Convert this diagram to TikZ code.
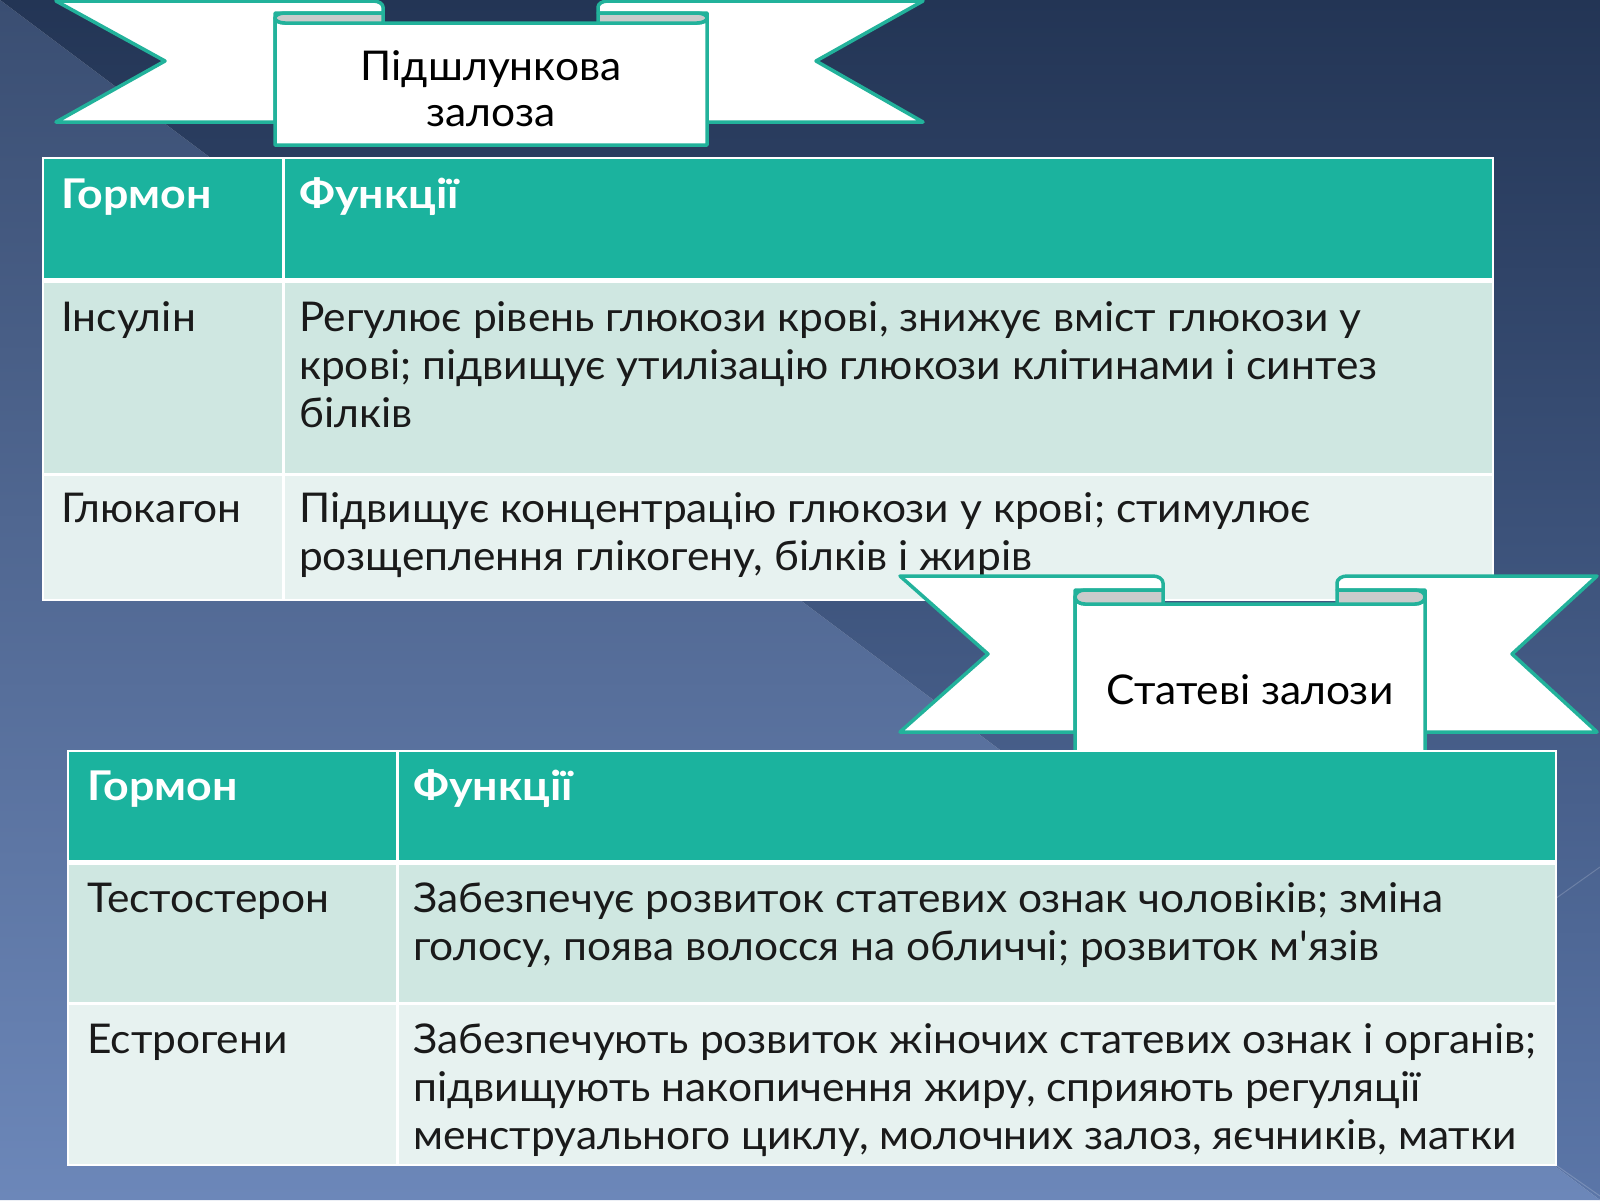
\documentclass[tikz,border=0pt]{standalone}
\usepackage{fontspec}
\setmainfont{Lato}[FakeStretch=1.036]
\newfontfamily\hdfont{Lato}[FakeStretch=1.09]
\definecolor{teal1}{HTML}{1BB39E}
\definecolor{teal2}{HTML}{22B29B}
\definecolor{rowA}{HTML}{CFE7E1}
\definecolor{rowB}{HTML}{E7F2F0}
\definecolor{curlgray}{HTML}{C9CBCB}
\definecolor{txtc}{HTML}{1A1A1A}
\definecolor{bgA}{HTML}{3A4E72}
\definecolor{bgB}{HTML}{44608A}
\definecolor{bgC}{HTML}{6C87B9}
\definecolor{bgD}{HTML}{233555}
\definecolor{bgE}{HTML}{334D7A}
\definecolor{bgF}{HTML}{5B76A8}
\tikzset{
  ribbonpart/.style={fill=white, draw=teal2, line width=3.5pt, line join=round},
  curlpart/.style={fill=curlgray, draw=teal2, line width=3.5pt, line join=round},
  hd/.style={font=\hdfont\bfseries\fontsize{41}{48}\selectfont, text=white, inner sep=0pt},
  tx/.style={font=\fontsize{41}{48}\selectfont, text=txtc, inner sep=0pt},
  bn/.style={font=\fontsize{41}{48}\selectfont, text=black, inner sep=0pt},
  sepline/.style={draw=white, line width=3pt},
  facet/.style={draw=white, draw opacity=0.18, line width=1pt},
}
\begin{document}
\begin{tikzpicture}[x=1pt,y=-1pt]
\useasboundingbox (0,0) rectangle (1600,1200);
% background
\shade[top color=bgA, middle color=bgB, bottom color=bgC] (0,0) -- (1600,1200) -- (0,1200) -- cycle;
\shade[top color=bgD, middle color=bgE, bottom color=bgF] (0,0) -- (1600,0) -- (1600,1200) -- cycle;
\draw[facet] (1600,867) -- (1300,1080);
\draw[facet] (1520,1140) -- (1600,1196);

% ===== Banner 1 =====
\path[ribbonpart] (56,1) -- (373,1) .. controls (378.5,1) and (383,3.7) .. (383,7) -- (383,13) -- (275,13) -- (275,122) -- (56,122) -- (165,61) -- cycle;
\path[ribbonpart] (923,1) -- (608,1) .. controls (602.5,1) and (598,3.7) .. (598,7) -- (598,13) -- (707,13) -- (707,122) -- (923,122) -- (816,61) -- cycle;
\path[ribbonpart] (275,18) .. controls (275,20.8) and (279.5,23) .. (285,23) -- (697,23) .. controls (702.5,23) and (707,20.8) .. (707,18) -- (707,145) -- (275,145) -- cycle;
\path[curlpart] (383,13) -- (285,13) .. controls (279.5,13) and (275,15.2) .. (275,18) .. controls (275,20.8) and (279.5,23) .. (285,23) -- (383,23) -- cycle;
\path[curlpart] (598,13) -- (697,13) .. controls (702.5,13) and (707,15.2) .. (707,18) .. controls (707,20.8) and (702.5,23) .. (697,23) -- (598,23) -- cycle;
\node[bn, anchor=base] (b1a) at (491,80) {Підшлункова};
\node[bn, anchor=base] (b1b) at (491,126) {залоза};

% ===== Table 1 =====
\fill[teal1] (43,158) rectangle (1493,280);
\fill[rowA] (43,280) rectangle (1493,474);
\fill[rowB] (43,474) rectangle (1493,600);
\draw[sepline, line width=5pt] (43,280) -- (1493,280);
\draw[sepline] (43,474) -- (1493,474);
\draw[sepline] (283,158) -- (283,600);
\draw[sepline, line width=2.5pt] (43,158) rectangle (1493,600);
\node[hd, anchor=base west] (t1h1) at (61,208) {Гормон};
\node[hd, anchor=base west] (t1h2) at (299,208) {Функції};
\node[tx, anchor=base west] (t1r1) at (61,331) {Інсулін};
\node[tx, anchor=base west] (t1r1a) at (299,331) {Регулює рівень глюкози крові, знижує вміст глюкози у};
\node[tx, anchor=base west] (t1r1b) at (299,379) {крові; підвищує утилізацію глюкози клітинами і синтез};
\node[tx, anchor=base west] (t1r1c) at (299,427) {білків};
\node[tx, anchor=base west] (t1r2) at (61,522) {Глюкагон};
\node[tx, anchor=base west] (t1r2a) at (299,522) {Підвищує концентрацію глюкози у крові; стимулює};
\node[tx, anchor=base west] (t1r2b) at (299,570) {розщеплення глікогену, білків і жирів};

% ===== Banner 2 =====
\path[ribbonpart] (900,576) -- (1153,576) .. controls (1158.5,576) and (1163,579.1) .. (1163,583) -- (1163,590) -- (1075,590) -- (1075,732) -- (900,732) -- (988,654) -- cycle;
\path[ribbonpart] (1597,576) -- (1347,576) .. controls (1341.5,576) and (1337,579.1) .. (1337,583) -- (1337,590) -- (1425,590) -- (1425,732) -- (1597,732) -- (1512,654) -- cycle;
\path[ribbonpart] (1075,597) .. controls (1075,600.9) and (1079.5,604) .. (1085,604) -- (1415,604) .. controls (1420.5,604) and (1425,600.9) .. (1425,597) -- (1425,770) -- (1075,770) -- cycle;
\path[curlpart] (1163,590) -- (1085,590) .. controls (1079.5,590) and (1075,593.1) .. (1075,597) .. controls (1075,600.9) and (1079.5,604) .. (1085,604) -- (1163,604) -- cycle;
\path[curlpart] (1337,590) -- (1415,590) .. controls (1420.5,590) and (1425,593.1) .. (1425,597) .. controls (1425,600.9) and (1420.5,604) .. (1415,604) -- (1337,604) -- cycle;
\node[bn, anchor=base] (b2a) at (1250,704) {Статеві залози};

% ===== Table 2 =====
\fill[teal1] (68,751) rectangle (1556,862);
\fill[rowA] (68,862) rectangle (1556,1003.5);
\fill[rowB] (68,1003.5) rectangle (1556,1165);
\draw[sepline, line width=5pt] (68,862) -- (1556,862);
\draw[sepline] (68,1003.5) -- (1556,1003.5);
\draw[sepline] (397,751) -- (397,1165);
\draw[sepline, line width=2.5pt] (68,751) rectangle (1556,1165);
\node[hd, anchor=base west] (t2h1) at (87,800) {Гормон};
\node[hd, anchor=base west] (t2h2) at (413,800) {Функції};
\node[tx, anchor=base west] (t2r1) at (87,912) {Тестостерон};
\node[tx, anchor=base west] (t2r1a) at (413,912) {Забезпечує розвиток статевих ознак чоловіків; зміна};
\node[tx, anchor=base west] (t2r1b) at (413,960) {голосу, поява волосся на обличчі; розвиток м\textquotesingle язів};
\node[tx, anchor=base west] (t2r2) at (87,1053) {Естрогени};
\node[tx, anchor=base west] (t2r2a) at (413,1053) {Забезпечують розвиток жіночих статевих ознак і органів;};
\node[tx, anchor=base west] (t2r2b) at (413,1101) {підвищують накопичення жиру, сприяють регуляції};
\node[tx, anchor=base west] (t2r2c) at (413,1149) {менструального циклу, молочних залоз, яєчників, матки};
\end{tikzpicture}
\end{document}
